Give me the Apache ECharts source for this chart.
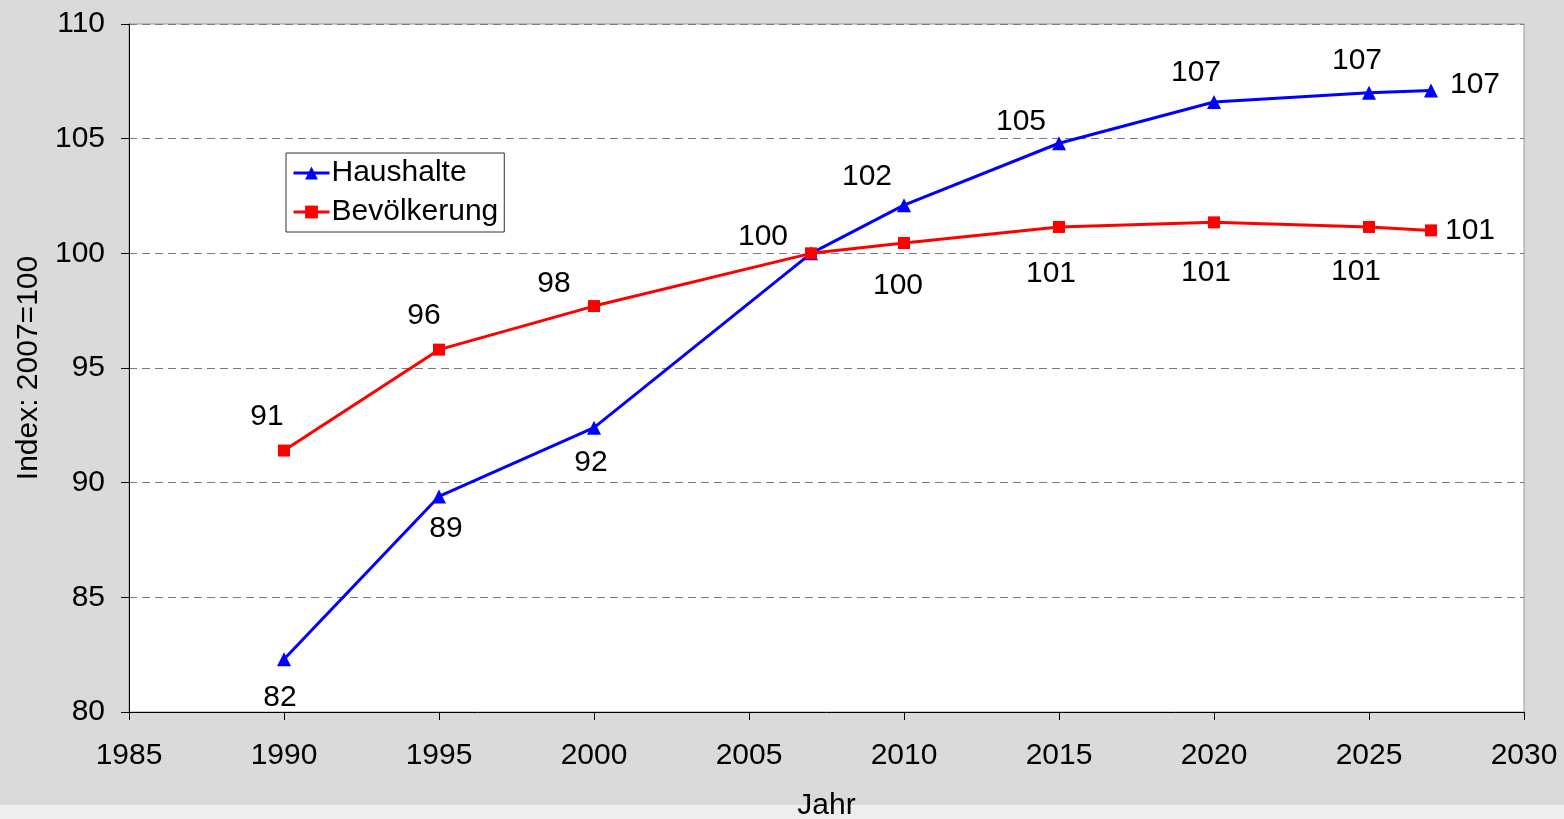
<!DOCTYPE html>
<html>
<head>
<meta charset="utf-8">
<script src="https://cdn.jsdelivr.net/npm/echarts@6/dist/echarts.min.js"></script>
<style>
  html, body { margin: 0; padding: 0; }
  body { background: linear-gradient(to bottom, #dadada 0, #dadada 805px, #eeeeee 805px); }
  #main { width: 1564px; height: 819px; }
</style>
</head>
<body>
<div id="main"></div>
<script>
var years = [1990, 1995, 2000, 2007, 2010, 2015, 2020, 2025, 2027];
var haushalte = [82.3, 89.4, 92.4, 100, 102.1, 104.8, 106.6, 107.0, 107.1];
var bevoelkerung = [91.4, 95.8, 97.7, 100, 100.45, 101.15, 101.35, 101.15, 101.0];

// label offsets (px) relative to the point, one per year
var hhLabelOffset = [[-4, 38], [7, 32], [-3, 35], null, [-37, -28], [-38, -22], [-18, -29], [-12, -32], [44, -6]];
var bvLabelOffset = [[-17, -34], [-15, -34], [-40, -22], [-48, -17], [-6, 43], [-8, 47], [-8, 50], [-13, 45], [39, 0]];

var FONT = 'Liberation Sans';
var FS = 30;

function buildData(values, offsets) {
    return values.map(function (v, i) {
        var item = { value: [years[i], v] };
        if (offsets[i]) {
            item.label = { show: true, position: 'inside', offset: offsets[i] };
        } else {
            item.label = { show: false };
        }
        return item;
    });
}

var chart = echarts.init(document.getElementById('main'), null, { renderer: 'canvas' });
var option = {
    backgroundColor: 'transparent',
    textStyle: { fontFamily: FONT },
    animation: false,
    grid: {
        left: 129, right: 40, top: 24, bottom: 107,
        outerBoundsMode: 'none',
        show: true, backgroundColor: '#ffffff', borderColor: '#9a9a9a', borderWidth: 1
    },
    legend: {
        orient: 'vertical',
        left: 286, top: 153,
        backgroundColor: '#ffffff',
        borderColor: '#333333', borderWidth: 1,
        padding: [5, 6, 5, 6],
        itemWidth: 36, itemHeight: 16, itemGap: 9,
        lineStyle: { width: 3 },
        textStyle: { fontSize: FS, color: '#000', fontFamily: FONT, padding: [0, 0, 0, -3] },
        data: ['Haushalte', 'Bevölkerung']
    },
    xAxis: {
        type: 'value', min: 1985, max: 2030, interval: 5,
        name: 'Jahr', nameLocation: 'middle', nameGap: 79,
        nameTextStyle: { fontSize: FS, color: '#000', fontFamily: FONT },
        axisLine: { show: true, lineStyle: { color: '#000', width: 1 } },
        axisTick: { show: true, length: 8, lineStyle: { color: '#000' } },
        axisLabel: { fontSize: FS, color: '#000', margin: 29, fontFamily: FONT,
            formatter: function (v) { return String(v); } },
        splitLine: { show: false }
    },
    yAxis: {
        type: 'value', min: 80, max: 110, interval: 5,
        name: 'Index: 2007=100', nameLocation: 'middle', nameGap: 85, nameRotate: 90,
        nameTextStyle: { fontSize: FS, color: '#000', fontFamily: FONT },
        axisLine: { show: true, lineStyle: { color: '#000', width: 1 } },
        axisTick: { show: true, length: 8, lineStyle: { color: '#000' } },
        axisLabel: { fontSize: FS, color: '#000', margin: 24, fontFamily: FONT },
        splitLine: { show: true, lineStyle: { color: '#7a7a7a', type: [8, 5], width: 1 } }
    },
    series: [
        {
            name: 'Haushalte',
            type: 'line',
            data: buildData(haushalte, hhLabelOffset),
            symbol: 'triangle', symbolSize: 14,
            itemStyle: { color: '#0000ff' },
            lineStyle: { color: '#0000ff', width: 3 },
            label: {
                fontSize: FS, color: '#000', fontFamily: FONT,
                formatter: function (p) { return Math.round(p.value[1]); }
            },
            z: 3
        },
        {
            name: 'Bevölkerung',
            type: 'line',
            data: buildData(bevoelkerung, bvLabelOffset),
            symbol: 'rect', symbolSize: 12,
            itemStyle: { color: '#ff0000' },
            lineStyle: { color: '#ff0000', width: 3 },
            label: {
                fontSize: FS, color: '#000', fontFamily: FONT,
                formatter: function (p) { return Math.round(p.value[1]); }
            },
            z: 4
        }
    ]
};
chart.setOption(option);
</script>
</body>
</html>
